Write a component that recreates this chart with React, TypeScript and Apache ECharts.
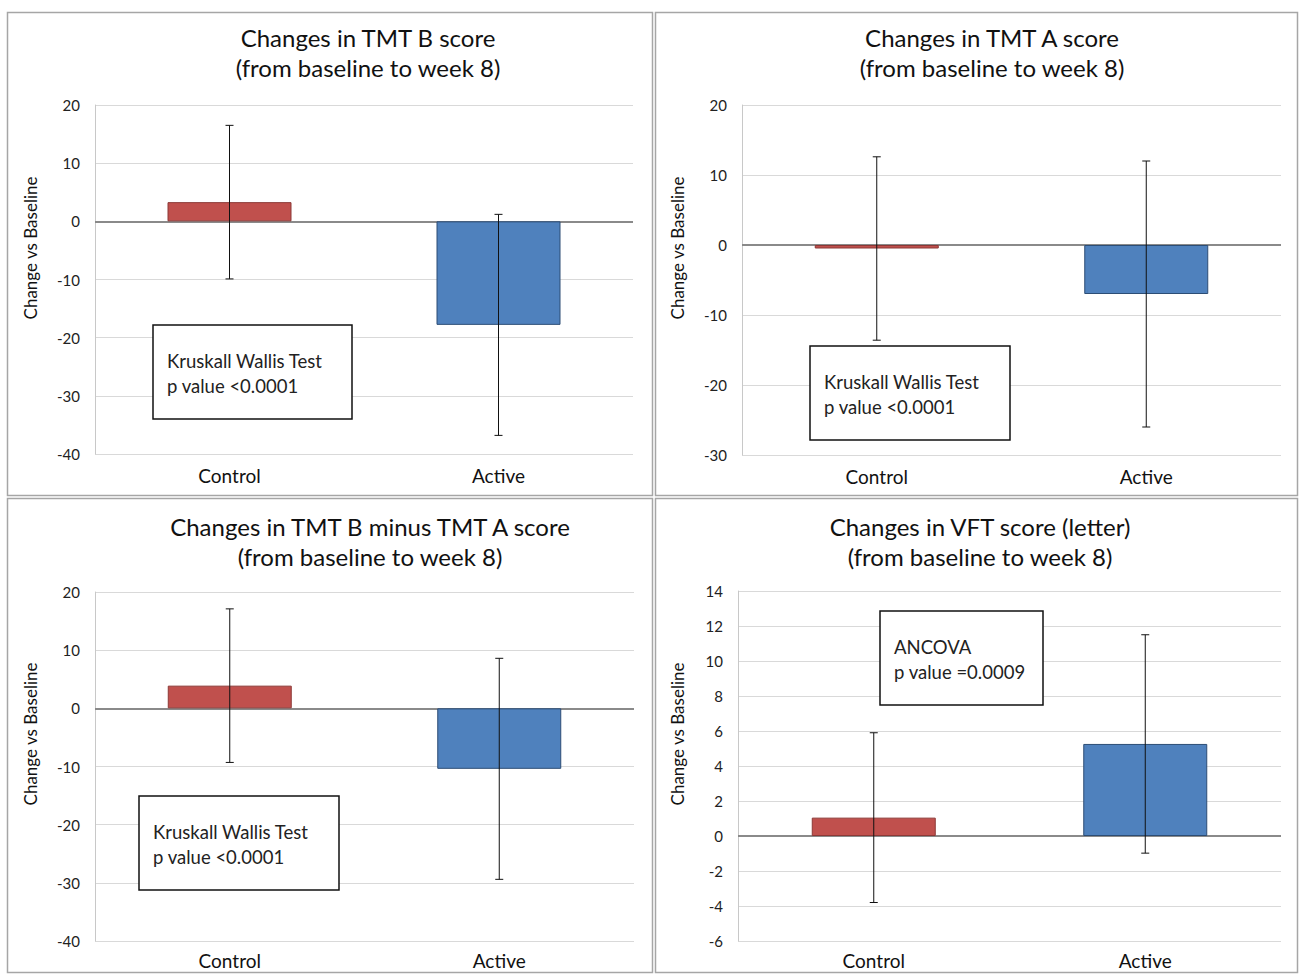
import React, { useEffect, useRef } from "react";
import * as echarts from "echarts";

const categories = ["Control", "Active"];

const tmtBMean = [3.3, -17.8];
const tmtBErr = [13.2, 19.0];

const tmtAMean = [-0.5, -7.0];
const tmtAErr = [13.1, 19.0];

const tmtBminusAMean = [3.9, -10.4];
const tmtBminusAErr = [13.2, 19.0];

const vftMean = [1.05, 5.26];
const vftErr = [4.85, 6.24];

const titles = [
  "Changes in TMT B score\n(from baseline to week 8)",
  "Changes in TMT A score\n(from baseline to week 8)",
  "Changes in TMT B minus TMT A score\n(from baseline to week 8)",
  "Changes in VFT score (letter)\n(from baseline to week 8)",
];

const statLines = [
  "Kruskall Wallis Test\np value <0.0001",
  "Kruskall Wallis Test\np value <0.0001",
  "Kruskall Wallis Test\np value <0.0001",
  "ANCOVA\np value =0.0009",
];

const yRanges = [
  { min: -40, max: 20, interval: 10 },
  { min: -30, max: 20, interval: 10 },
  { min: -40, max: 20, interval: 10 },
  { min: -6, max: 14, interval: 2 },
];

const yAxisName = "Change vs Baseline";

const FONT = "Lato, 'Open Sans', sans-serif";
const barColors = ["#c0504d", "#4f81bd"];
const barBorders = ["#8c3836", "#2c4d75"];

export default function App() {
  const ref = useRef<HTMLDivElement>(null);

  useEffect(() => {
    if (!ref.current) return;
    const chart = echarts.init(ref.current, undefined, { renderer: "svg" });

    const means = [tmtBMean, tmtAMean, tmtBminusAMean, vftMean];
    const errs = [tmtBErr, tmtAErr, tmtBminusAErr, vftErr];

    const grids = [
      { left: 95, top: 105, width: 538, height: 349 },
      { left: 742, top: 105, width: 539, height: 350 },
      { left: 95, top: 592, width: 539, height: 349 },
      { left: 738, top: 591, width: 543, height: 350 },
    ];

    const panels = [
      { x: 7, y: 12, w: 645, h: 483 },
      { x: 655, y: 12, w: 642, h: 483 },
      { x: 7, y: 498, w: 645, h: 474 },
      { x: 655, y: 498, w: 642, h: 474 },
    ];

    const titlePos = [
      { x: 368, y: 52 },
      { x: 992, y: 52 },
      { x: 370, y: 541 },
      { x: 980, y: 541 },
    ];

    const yNamePos = [
      { x: 30, y: 248 },
      { x: 677, y: 248 },
      { x: 30, y: 734 },
      { x: 677, y: 734 },
    ];

    const boxes = [
      { x: 153, y: 325, w: 199, h: 94 },
      { x: 810, y: 346, w: 200, h: 94 },
      { x: 139, y: 796, w: 200, h: 94 },
      { x: 880, y: 611, w: 163, h: 94 },
    ];

    const xAxis = grids.map((_, i) => ({
      type: "category",
      gridIndex: i,
      data: categories,
      axisLine: { show: false },
      axisTick: { show: false },
      axisLabel: {
        fontFamily: FONT,
        fontSize: 19,
        color: "#111",
        margin: i >= 2 ? 10 : 12,
      },
    }));

    const yAxis = grids.map((_, i) => ({
      type: "value",
      gridIndex: i,
      min: yRanges[i].min,
      max: yRanges[i].max,
      interval: yRanges[i].interval,
      axisLine: { show: true, lineStyle: { color: "#c8c8c8", width: 1 } },
      axisTick: { show: false },
      axisLabel: {
        fontFamily: FONT,
        fontSize: 15,
        color: "#222",
        margin: 15,
      },
      splitLine: { show: true, lineStyle: { color: "#d9d9d9", width: 1 } },
    }));

    const series: any[] = [];
    grids.forEach((_, i) => {
      series.push({
        type: "bar",
        xAxisIndex: i,
        yAxisIndex: i,
        barWidth: 124,
        data: means[i].map((v, k) => ({
          value: v,
          itemStyle: {
            color: barColors[k],
            borderColor: barBorders[k],
            borderWidth: 1,
          },
        })),
        markLine: {
          silent: true,
          symbol: "none",
          label: { show: false },
          lineStyle: { color: "#8a8a8a", width: 2, type: "solid" },
          data: [{ yAxis: 0 }],
          z: 1,
        },
        z: 2,
      });
      series.push({
        type: "custom",
        xAxisIndex: i,
        yAxisIndex: i,
        z: 5,
        data: means[i].map((m, k) => [k, m - errs[i][k], m + errs[i][k]]),
        renderItem: (params: any, api: any) => {
          const lo = api.coord([api.value(0), api.value(1)]);
          const hi = api.coord([api.value(0), api.value(2)]);
          const cap = 4;
          const st = { stroke: "#111", lineWidth: 1 };
          return {
            type: "group",
            children: [
              { type: "line", shape: { x1: hi[0], y1: hi[1], x2: lo[0], y2: lo[1] }, style: st },
              { type: "line", shape: { x1: hi[0] - cap, y1: hi[1], x2: hi[0] + cap, y2: hi[1] }, style: st },
              { type: "line", shape: { x1: lo[0] - cap, y1: lo[1], x2: lo[0] + cap, y2: lo[1] }, style: st },
            ],
          };
        },
      });
    });

    const graphic: any[] = [];
    panels.forEach((p) => {
      graphic.push({
        type: "rect",
        shape: { x: p.x + 0.5, y: p.y + 0.5, width: p.w, height: p.h },
        style: { fill: "none", stroke: "#a6a6a6", lineWidth: 1.5 },
        z: -10,
      });
    });
    titlePos.forEach((t, i) => {
      graphic.push({
        type: "text",
        x: t.x,
        y: t.y,
        style: {
          text: titles[i],
          font: `24px ${FONT}`,
          fill: "#111",
          textAlign: "center",
          textVerticalAlign: "middle",
          lineHeight: 30,
        },
        z: 10,
      });
    });
    yNamePos.forEach((p) => {
      graphic.push({
        type: "text",
        x: p.x,
        y: p.y,
        rotation: Math.PI / 2,
        style: {
          text: yAxisName,
          font: `17px ${FONT}`,
          fill: "#111",
          textAlign: "center",
          textVerticalAlign: "middle",
        },
        z: 10,
      });
    });
    boxes.forEach((b, i) => {
      graphic.push({
        type: "rect",
        shape: { x: b.x, y: b.y, width: b.w, height: b.h },
        style: { fill: "#fff", stroke: "#111", lineWidth: 1.5 },
        z: 20,
      });
      graphic.push({
        type: "text",
        x: b.x + 14,
        y: b.y + b.h / 2 + 1,
        style: {
          text: statLines[i],
          font: `18.5px ${FONT}`,
          fill: "#222",
          textAlign: "left",
          textVerticalAlign: "middle",
          lineHeight: 25,
        },
        z: 21,
      });
    });

    chart.setOption({
      animation: false,
      backgroundColor: "#fff",
      grid: grids.map((g) => ({ ...g, containLabel: false })),
      xAxis,
      yAxis,
      series,
      graphic,
    });

    return () => chart.dispose();
  }, []);

  return (
    <div
      ref={ref}
      style={{ position: "absolute", left: 0, top: 0, width: 1299, height: 974 }}
    />
  );
}
